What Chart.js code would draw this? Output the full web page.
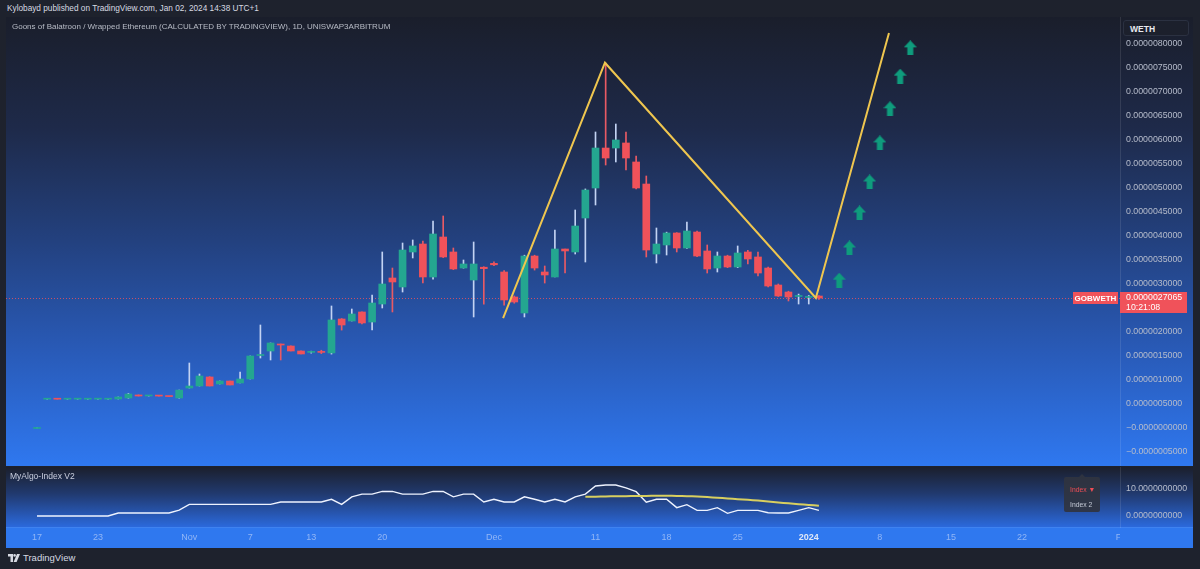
<!DOCTYPE html>
<html><head><meta charset="utf-8">
<script src="https://cdn.jsdelivr.net/npm/chart.js@4.4.1/dist/chart.umd.min.js"></script>
<style>
html,body{margin:0;padding:0;background:#1e222d;width:1200px;height:569px;overflow:hidden;font-family:"Liberation Sans",Arial,sans-serif;}
.abs{position:absolute;white-space:nowrap;}
#hdr{left:7px;top:4px;font-size:8.25px;color:#d7dae2;}
#c1wrap{position:absolute;left:6px;top:17px;width:1187px;height:449px;}
#c2wrap{position:absolute;left:6px;top:467px;width:1187px;height:81px;}
#title{left:12px;top:22px;font-size:8px;color:#b8bcc6;z-index:5;}
#weth{left:1123px;top:20px;width:66px;height:16px;background:#1c202c;border:1px solid #2b3141;border-radius:3px;z-index:5;box-sizing:border-box;font-size:8.5px;font-weight:bold;color:#e8eaf0;padding:3px 0 0 6px;}
#algo{left:10px;top:471px;font-size:8.5px;color:#c9cede;z-index:5;}
#leg{left:1064px;top:477px;width:36px;height:35px;background:rgba(48,52,64,0.92);border-radius:2px;z-index:5;font-size:6.8px;}
#leg:before{content:"";position:absolute;left:15px;top:-3px;border-left:3px solid transparent;border-right:3px solid transparent;border-bottom:3px solid rgba(48,52,64,0.92);}
#leg .a{position:absolute;left:6px;top:9px;color:#f04e56;}
#leg .b{position:absolute;left:6px;top:24px;color:#c5cad6;}
#foot{left:8px;top:552px;font-size:9.5px;color:#d7dae2;display:flex;align-items:center;gap:3px;}
</style></head>
<body>
<div id="hdr" class="abs">Kylobayd published on TradingView.com, Jan 02, 2024 14:38 UTC+1</div>
<div id="c1wrap"><canvas id="c1" width="1187" height="449"></canvas></div>
<div id="c2wrap"><canvas id="c2" width="1187" height="81"></canvas></div>
<div id="title" class="abs">Goons of Balatroon / Wrapped Ethereum (CALCULATED BY TRADINGVIEW), 1D, UNISWAP3ARBITRUM</div>
<div id="weth" class="abs">WETH</div>
<div id="algo" class="abs">MyAlgo-Index V2</div>
<div id="leg" class="abs"><span class="a">Index ▼</span><span class="b">Index 2</span></div>
<div id="foot" class="abs"><svg width="12" height="8" viewBox="0 0 12 8"><path d="M0 0h5v8h-2.5v-5.5h-2.5z" fill="#d7dae2"/><circle cx="6.6" cy="1.4" r="1.3" fill="#d7dae2"/><path d="M9 0h3l-3.4 8h-3z" fill="#d7dae2"/></svg><span>TradingView</span></div>
<script>
// ---- data (prices in units of 1e-6 WETH; day 0 = 2023-10-17, daily candles) ----
const startDate = '2023-10-17';
const opens  = [0.000,0.600,0.606,0.600,0.601,0.600,0.601,0.600,0.604,0.625,0.688,0.667,0.670,0.660,0.625,0.833,0.875,1.063,0.917,0.979,
                0.938,1.021,1.510,1.604,1.750,1.708,1.604,1.575,1.583,1.563,2.271,2.229,2.417,2.208,2.583,3.125,2.938,3.667,3.833,3.146,
                3.979,3.667,3.333,3.083,3.350,3.430,3.250,2.729,2.396,3.583,3.250,3.146,3.729,3.667,4.375,5.000,5.833,5.833,5.938,5.542,
                5.083,3.625,3.813,4.063,3.750,4.083,3.688,3.333,3.583,3.354,3.667,3.563,3.333,2.979,2.833,2.740,2.720,2.750];
const highs  = [0.002,0.604,0.606,0.603,0.604,0.603,0.604,0.603,0.646,0.720,0.690,0.670,0.672,0.662,0.790,1.354,1.125,1.070,0.979,0.980,
                1.167,1.500,2.146,1.771,1.750,1.710,1.610,1.600,1.620,2.542,2.280,2.479,2.420,2.771,3.667,3.333,3.854,3.917,3.896,4.313,
                4.417,3.750,3.500,3.875,3.360,3.460,3.280,2.750,3.600,3.600,3.375,4.125,3.730,4.542,4.980,6.167,7.604,6.333,6.167,5.667,
                5.250,4.167,4.080,4.070,4.292,4.100,3.813,3.667,3.600,3.792,3.700,3.667,3.350,3.000,2.850,2.790,2.760,2.760];
const lows   = [0.000,0.600,0.600,0.600,0.601,0.600,0.601,0.600,0.604,0.620,0.665,0.665,0.664,0.654,0.620,0.833,0.875,0.875,0.917,0.896,
                0.938,1.021,1.458,1.417,1.417,1.604,1.542,1.560,1.550,1.540,2.040,2.229,2.170,2.042,2.500,2.417,2.833,3.542,3.021,3.100,
                3.550,3.300,3.330,2.313,2.580,3.380,2.560,2.600,2.313,3.290,3.020,3.146,3.229,3.625,3.458,4.646,5.479,5.542,5.375,4.980,
                3.563,3.438,3.604,3.667,3.740,3.570,3.229,3.250,3.340,3.340,3.417,3.167,2.940,2.740,2.646,2.583,2.583,2.680];
const closes = [0.002,0.604,0.600,0.603,0.604,0.603,0.604,0.603,0.646,0.708,0.667,0.669,0.665,0.655,0.790,0.875,1.083,0.875,0.979,0.896,
                1.021,1.500,1.530,1.771,1.729,1.604,1.542,1.583,1.575,2.250,2.146,2.375,2.188,2.604,3.000,3.042,3.708,3.792,3.146,4.042,
                3.563,3.313,3.417,3.417,3.320,3.400,2.667,2.625,3.583,3.333,3.188,3.729,3.688,4.208,4.958,5.833,5.625,6.000,5.625,5.000,
                3.708,3.833,4.063,3.750,4.104,3.583,3.313,3.583,3.354,3.646,3.521,3.229,2.958,2.750,2.729,2.760,2.740,2.7065];
const priceTicks = [8.0,7.5,7.0,6.5,6.0,5.5,5.0,4.5,4.0,3.5,3.0,2.5,2.0,1.5,1.0,0.5,0.0,-0.5];
const timeTickDays   = [0,6,15,21,27,34,45,55,62,69,76,83,90,97,107];
const timeTickLabels = ['17','23','Nov','7','13','20','Dec','11','18','25','2024','8','15','22','Feb'];
const patternDays   = [45.9,55.93,76.7,83.9];
const patternPrices = [2.29,7.61,2.71,8.23];
const arrowDays   = [79,80,81,82,83,84,85,86];
const arrowPrices = [3.08,3.75,4.48,5.125,5.94,6.65,7.33,7.92];
const indexValues = [0,0,0,0,0,0,0,0,1.1,1.1,1.1,1.1,1.1,1.1,2.2,4.3,4.3,4.3,4.3,4.3,4.3,4.3,4.3,4.3,5.2,5.2,5.2,5.2,5.2,6.2,
                     4.3,7.1,8.1,8.1,9.1,9.1,8.1,8.1,8.1,9.1,9.1,7.1,8.1,8.1,5.2,6.2,5.2,5.2,7.1,6.2,5.2,6.2,5.2,7.1,8.1,11.1,11.5,11.5,10.4,9.0,
                     5.1,6.2,6.2,3.1,4.2,2.1,2.1,3.1,1.0,2.1,2.1,2.1,1.2,1.1,1.1,2.1,3.1,2.1];
const index2Start = 54;
const index2Values = [7.1,7.15,7.25,7.3,7.35,7.4,7.45,7.5,7.5,7.45,7.35,7.2,7.0,6.75,6.5,6.25,6.0,5.7,5.35,5.0,4.7,4.4,4.1,3.8];
const indexTicks = [0,10];

// ---- layout constants ----
const X_MIN = -3.053, X_MAX = 106.65;
const UP = '#24a690', DOWN = '#f0525a', UPWICK = '#c3d3f3', DOWNWICK = '#e85a64';
const FONT = '"Liberation Sans", Arial, sans-serif';

const days = opens.map((_, i) => i);
const last = closes.length - 1;
const isUp = i => closes[i] >= opens[i];
// value in 1e-6 units -> 10-decimal string
const fmtPrice = v => (v <= 0 ? '\u2212' : '') + '0.' + String(Math.round(Math.abs(v) * 10000)).padStart(10, '0');

const arrowImg = document.createElement('canvas');
arrowImg.width = 13; arrowImg.height = 15;
(() => { const a = arrowImg.getContext('2d'); a.fillStyle = '#0f9c7d'; a.beginPath();
  a.moveTo(6.5,0); a.lineTo(13,7); a.lineTo(9.5,7); a.lineTo(9.5,15); a.lineTo(3.5,15); a.lineTo(3.5,7); a.lineTo(0,7); a.closePath(); a.fill(); })();

const bgMain = { id:'bgMain', beforeDraw(chart){
  const {ctx} = chart; const H = chart.height, W = chart.width;
  const g = ctx.createLinearGradient(0,0,0,H);
  g.addColorStop(0,'#1a1e2b'); g.addColorStop(0.25,'#1e2a4a'); g.addColorStop(0.5,'#23417f');
  g.addColorStop(0.75,'#295bb9'); g.addColorStop(1,'#2f78f0');
  ctx.save(); ctx.fillStyle = g; ctx.fillRect(0,0,W,H); ctx.restore();
}};
const lastPrice = { id:'lastPrice',
  beforeDatasetsDraw(chart){
    const {ctx, chartArea:ca} = chart; const y = Math.round(chart.scales.y.getPixelForValue(closes[last])) + 0.5;
    ctx.save(); ctx.strokeStyle = 'rgba(240,82,90,0.8)'; ctx.lineWidth = 1; ctx.setLineDash([1,2]);
    ctx.beginPath(); ctx.moveTo(ca.left,y); ctx.lineTo(ca.right,y); ctx.stroke(); ctx.restore();
  },
  afterDraw(chart){
    const {ctx, chartArea:ca} = chart; const y = Math.round(chart.scales.y.getPixelForValue(closes[last]));
    ctx.save(); ctx.fillStyle = DOWN;
    ctx.fillRect(ca.right, y-6, 67, 21);
    ctx.fillRect(ca.right-47, y-6, 45, 12);
    ctx.fillStyle = '#ffffff'; ctx.textBaseline = 'middle';
    ctx.font = '8.8px ' + FONT; ctx.textAlign = 'left';
    ctx.fillText(fmtPrice(closes[last]), ca.right+6, y);
    ctx.fillText('10:21:08', ca.right+6, y+10);
    ctx.font = 'bold 8px ' + FONT; ctx.textAlign = 'center';
    ctx.fillText('GOBWETH', ca.right-24.5, y+0.5);
    ctx.restore();
  }
};

new Chart(document.getElementById('c1'), {
  type:'bar',
  data:{ datasets:[
    { type:'line', data: patternDays.map((d,i)=>({x:d,y:patternPrices[i]})), borderColor:'#efc64f', borderWidth:2, pointRadius:0, order:0 },
    { type:'line', data: arrowDays.map((d,i)=>({x:d,y:arrowPrices[i]})), showLine:false, pointStyle:arrowImg, pointRadius:7, order:0 },
    { data: days.map(i=>({x:i,y:[opens[i],closes[i]]})), backgroundColor: days.map(i=>isUp(i)?UP:DOWN),
      barThickness:7, minBarLength:1, grouped:false, borderWidth:0, order:1 },
    { data: days.map(i=>({x:i,y:[lows[i],highs[i]]})), backgroundColor: days.map(i=>isUp(i)?UPWICK:DOWNWICK),
      barThickness:1, grouped:false, borderWidth:0, order:2 }
  ]},
  options:{
    animation:false, responsive:false, maintainAspectRatio:false,
    layout:{padding:0, autoPadding:false},
    plugins:{legend:{display:false}, tooltip:{enabled:false}},
    scales:{
      x:{type:'linear', min:X_MIN, max:X_MAX, display:false, offset:false},
      y:{position:'right', min:-0.7917, max:8.5625,
         afterBuildTicks:s=>{ s.ticks = priceTicks.map(v=>({value:v})); },
         afterFit:s=>{ s.width = 73; s.paddingTop = 0; s.paddingBottom = 0; },
         grid:{display:false, drawTicks:false},
         border:{display:true, color:'rgba(255,255,255,0.10)'},
         ticks:{color:'#b6bccb', font:{size:8.8, family:FONT}, padding:6, callback:v=>fmtPrice(v)}}
    }
  },
  plugins:[bgMain, lastPrice]
});

const bgInd = { id:'bgInd', beforeDraw(chart){
  const {ctx, chartArea:ca} = chart; const H = chart.height, W = chart.width;
  const g = ctx.createLinearGradient(0,0,0,ca.bottom);
  g.addColorStop(0,'#1b1f2c'); g.addColorStop(0.45,'#213a70'); g.addColorStop(1,'#2b69dc');
  ctx.save(); ctx.fillStyle = g; ctx.fillRect(0,0,W,ca.bottom);
  ctx.fillStyle = '#2f78ef'; ctx.fillRect(0,ca.bottom,W,H-ca.bottom);
  ctx.fillStyle = 'rgba(255,255,255,0.08)'; ctx.fillRect(0,ca.bottom,W,1);
  ctx.restore();
}};
const timeLabels = { id:'timeLabels', afterDraw(chart){
  const {ctx, chartArea:ca} = chart; const xs = chart.scales.x;
  ctx.save(); ctx.beginPath(); ctx.rect(0, ca.bottom, ca.right, chart.height-ca.bottom); ctx.clip();
  ctx.textAlign = 'center'; ctx.textBaseline = 'middle';
  timeTickDays.forEach((d,i)=>{
    const bold = timeTickLabels[i] === '2024';
    ctx.font = (bold ? 'bold ' : '') + '9px ' + FONT;
    ctx.fillStyle = bold ? '#dfe7f7' : 'rgba(205,220,250,0.62)';
    ctx.fillText(timeTickLabels[i], xs.getPixelForValue(d), ca.bottom + 10.5);
  });
  ctx.restore();
}};

new Chart(document.getElementById('c2'), {
  type:'line',
  data:{ datasets:[
    { data: index2Values.map((v,i)=>({x:index2Start+i,y:v})), borderColor:'#d8cf5f', borderWidth:2, pointRadius:0, tension:0.3 },
    { data: indexValues.map((v,i)=>({x:i,y:v})), borderColor:'#eef3ff', borderWidth:1.4, pointRadius:0, tension:0 }
  ]},
  options:{
    animation:false, responsive:false, maintainAspectRatio:false,
    layout:{padding:{top:0,bottom:21,left:0,right:0}, autoPadding:false},
    plugins:{legend:{display:false}, tooltip:{enabled:false}},
    scales:{
      x:{type:'linear', min:X_MIN, max:X_MAX, display:false},
      y:{position:'right', min:-4.07, max:18.15,
         afterBuildTicks:s=>{ s.ticks = indexTicks.map(v=>({value:v})); },
         afterFit:s=>{ s.width = 73; s.paddingTop = 0; s.paddingBottom = 0; },
         grid:{display:false, drawTicks:false},
         border:{display:true, color:'rgba(255,255,255,0.10)'},
         ticks:{color:'#b6bccb', font:{size:8.8, family:FONT}, padding:6, callback:v=>Number(v).toFixed(10)}}
    }
  },
  plugins:[bgInd, timeLabels]
});
</script>
</body></html>
